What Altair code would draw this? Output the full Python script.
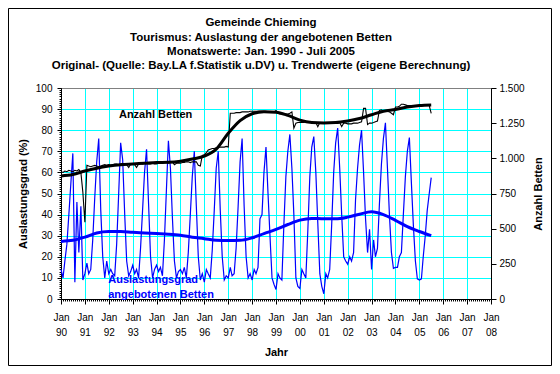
import altair as alt
import pandas as pd

FONT = "Liberation Sans"
BLUE = "#0000FF"
CYAN = "#00FFFF"

# Auslastungsgrad (%) monthly, Jan 1990 - Jul 2005 (one row per year)
auslastung = [
    14, 10, 18, 26, 40, 55, 69, 8, 46, 22, 44, 9,          # 1990
    12, 17, 12, 14, 28, 48, 65, 76, 42, 20, 10, 18,        # 1991
    12, 14, 12, 11, 26, 50, 74, 66, 40, 18, 11, 13,        # 1992
    16, 12, 14, 10, 24, 42, 60, 71, 45, 20, 10, 14,        # 1993
    16, 13, 15, 11, 28, 52, 75, 62, 38, 18, 10, 13,        # 1994
    14, 12, 15, 10, 22, 40, 58, 70, 44, 20, 9, 12,         # 1995
    8, 14, 12, 10, 23, 42, 62, 70, 42, 20, 9, 11,          # 1996
    10, 15, 11, 12, 24, 44, 65, 76, 44, 20, 10, 12,        # 1997
    9, 14, 12, 15, 38, 40, 60, 72, 50, 30, 10, 7,          # 1998
    4.5, 12, 10, 9, 35, 58, 70, 78, 62, 40, 10, 6,         # 1999
    5, 14, 12, 10, 32, 58, 72, 77, 60, 36, 12, 6,          # 2000
    2.5, 12, 10, 14, 35, 60, 74, 81, 62, 40, 20, 18,       # 2001
    16.5, 20, 18, 22, 47, 62, 73, 80, 60, 38, 22, 33,      # 2002
    14, 28, 20, 24, 45, 64, 76, 83.5, 62, 40, 22, 14.5,    # 2003
    15, 15, 20, 22, 40, 58, 70, 76.5, 55, 35, 18, 9.5,     # 2004
    9, 9.5, 20, 30, 42, 50, 57.5,                          # 2005
]

# Anzahl Betten monthly
betten = [
    905, 900, 910, 905, 915, 910, 905, 915, 910, 920, 900, 760,            # 1990
    545, 950, 945, 940, 945, 950, 945, 940, 945, 950, 955, 950,            # 1991
    955, 950, 955, 960, 960, 955, 960, 965, 960, 955, 935, 960,            # 1992
    960, 955, 935, 960, 965, 960, 965, 965, 960, 960, 965, 960,            # 1993
    960, 965, 970, 965, 970, 970, 965, 970, 975, 955, 965, 965,            # 1994
    965, 970, 970, 975, 975, 970, 975, 975, 975, 950, 945, 1020,           # 1995
    1025, 1040, 1060, 1065, 1070, 1070, 1075, 1075, 1080, 1080, 1080, 1085,  # 1996
    1080, 1320, 1320, 1320, 1325, 1325, 1325, 1330, 1330, 1330, 1330, 1335,  # 1997
    1335, 1335, 1335, 1335, 1335, 1335, 1335, 1335, 1330, 1330, 1330, 1330,  # 1998
    1340, 1320, 1315, 1315, 1315, 1315, 1315, 1320, 1330, 1215, 1250, 1255,  # 1999
    1255, 1255, 1255, 1260, 1260, 1255, 1255, 1255, 1255, 1225, 1255, 1255,  # 2000
    1255, 1255, 1255, 1255, 1255, 1255, 1255, 1260, 1255, 1225, 1250, 1250,  # 2001
    1245, 1245, 1245, 1250, 1250, 1250, 1255, 1260, 1355, 1355, 1240, 1250,  # 2002
    1250, 1255, 1260, 1265, 1340, 1345, 1335, 1340, 1335, 1330, 1320, 1310,  # 2003
    1365, 1365, 1370, 1385, 1385, 1380, 1375, 1375, 1375, 1375, 1375, 1375,  # 2004
    1375, 1375, 1380, 1380, 1380, 1375, 1320,                              # 2005
]

# Trend values, every half year (Jan / Jul)
trend_auslastung = [
    27.3, 27.8, 29.3, 31.3, 32.0, 32.0, 31.6, 31.3, 31.0, 30.7, 30.2, 29.3,
    28.6, 27.8, 27.7, 27.8, 29.0, 31.0, 33.0, 35.3, 37.4, 38.2, 38.0, 38.0,
    38.8, 40.2, 41.3, 40.0, 37.3, 34.3, 32.0, 30.0,
]
trend_betten = [
    875, 885, 910, 930, 945, 955, 960, 965, 970, 972, 980, 995,
    1015, 1065, 1178, 1268, 1317, 1332, 1328, 1305, 1272, 1255, 1252, 1254,
    1265, 1283, 1310, 1335, 1347, 1365, 1376, 1380,
]

label_text = ["Anzahl Betten", "Auslastungsgrad", "angebotenen Betten"]
label_month = ["1992-06-05", "1991-12-24", "1991-12-24"]
label_value = [87.3, 9.0, 1.7]
label_color = ["black", BLUE, BLUE]

title_lines = [
    "Gemeinde Chieming",
    "Tourismus: Auslastung der angebotenen Betten",
    "Monatswerte: Jan. 1990 - Juli 2005",
    "Original- (Quelle: Bay.LA f.Statistik u.DV) u. Trendwerte (eigene Berechnung)",
]

year_ticks = list(range(1990, 2009))
pct_ticks = list(range(0, 101, 10))
pct_minor = list(range(0, 101, 1))
bed_ticks = list(range(0, 1501, 250))

months = pd.date_range("1990-01-01", periods=len(auslastung), freq="MS").strftime("%Y-%m-%d")
trend_months = pd.date_range("1990-01-01", periods=len(trend_auslastung), freq="6MS").strftime("%Y-%m-%d")

df = pd.DataFrame({"Monat": months, "Auslastung": auslastung, "Betten": betten})
tdf = pd.DataFrame({"Monat": trend_months, "Auslastung": trend_auslastung, "Betten": trend_betten})
ldf = pd.DataFrame({"Monat": label_month, "Wert": label_value, "Text": label_text, "Farbe": label_color})


def dt(y, m=1):
    return alt.DateTime(year=y, month=m, date=1, utc=True)


x_scale = alt.Scale(type="utc", domain=[dt(1990), dt(2008)])
pct_scale = alt.Scale(domain=[0, 100], nice=False)
bed_scale = alt.Scale(domain=[0, 1500], nice=False)

x_main_axis = alt.Axis(
    orient="bottom", values=[dt(y) for y in year_ticks],
    labelExpr="['Jan', utcFormat(datum.value, '%y')]",
    labelFont=FONT, labelFontSize=10, labelColor="black", labelLineHeight=15,
    labelPadding=8, labelAngle=0, labelOverlap=False, labelFlush=False,
    tickSize=5, tickColor="black", domainColor="black",
    grid=True,
    gridColor={"condition": {"test": "utcyear(datum.value) == 1990 || utcyear(datum.value) == 2008",
                             "value": "black"}, "value": CYAN},
    gridOpacity=1, gridWidth=1,
    title="Jahr", titleFont=FONT, titleFontSize=11, titleFontWeight="bold",
    titleColor="black", titlePadding=9,
)
x_minor_axis = alt.Axis(
    orient="bottom", values=[dt(y, m) for y in range(1990, 2008) for m in range(1, 13)] + [dt(2008)],
    labels=False, domain=False, grid=False, tickSize=2, tickColor="black", title=None,
)
y_main_axis = alt.Axis(
    orient="left", values=pct_ticks,
    labelFont=FONT, labelFontSize=10, labelColor="black", labelPadding=5,
    tickSize=4, tickColor="black", domainColor="black",
    grid=True,
    gridColor={"condition": {"test": "datum.value >= 100", "value": "#808080"}, "value": CYAN},
    gridOpacity=1, gridWidth=1,
    title="Auslastungsgrad (%)", titleFont=FONT, titleFontSize=11, titleFontWeight="bold",
    titleColor="black", titlePadding=7,
)
y_minor_axis = alt.Axis(
    orient="left", values=pct_minor, labels=False, domain=False, grid=False,
    tickSize=2, tickColor="black", title=None,
)
y_right_axis = alt.Axis(
    orient="right", values=bed_ticks,
    labelExpr="replace(format(datum.value, ','), ',', '.')",
    labelFont=FONT, labelFontSize=10, labelColor="black", labelPadding=3,
    tickSize=5, tickColor="black", domainColor="black", grid=False,
    title="Anzahl Betten", titleFont=FONT, titleFontSize=11, titleFontWeight="bold",
    titleColor="black", titlePadding=8, titleAngle=270, titleBaseline="top",
)

frame = alt.Chart(pd.DataFrame({"k": [0]})).mark_rect(
    filled=False, stroke="black", strokeWidth=1
).encode(
    x=alt.value(-52.5), x2=alt.value(490.5), y=alt.value(-79.5), y2=alt.value(277.5)
)

minor = alt.Chart(df).mark_line(opacity=0).encode(
    x=alt.X("Monat:T", scale=x_scale, axis=x_minor_axis),
    y=alt.Y("Auslastung:Q", scale=pct_scale, axis=y_minor_axis),
)

blue = alt.Chart(df).mark_line(color=BLUE, strokeWidth=1.2).encode(
    x=alt.X("Monat:T", scale=x_scale, axis=x_main_axis),
    y=alt.Y("Auslastung:Q", scale=pct_scale, axis=y_main_axis),
)
blue_trend = alt.Chart(tdf).mark_line(color=BLUE, strokeWidth=3, interpolate="monotone").encode(
    x=alt.X("Monat:T", scale=x_scale, axis=None),
    y=alt.Y("Auslastung:Q", scale=pct_scale, axis=None),
)
black = alt.Chart(df).mark_line(color="black", strokeWidth=1.1).encode(
    x=alt.X("Monat:T", scale=x_scale, axis=None),
    y=alt.Y("Betten:Q", scale=bed_scale, axis=y_right_axis),
)
black_trend = alt.Chart(tdf).mark_line(color="black", strokeWidth=3, interpolate="monotone").encode(
    x=alt.X("Monat:T", scale=x_scale, axis=None),
    y=alt.Y("Betten:Q", scale=bed_scale, axis=None),
)
texts = alt.Chart(ldf).mark_text(
    align="left", baseline="middle", font=FONT, fontSize=11, fontWeight="bold"
).encode(
    x=alt.X("Monat:T", scale=x_scale, axis=None),
    y=alt.Y("Wert:Q", scale=pct_scale, axis=None),
    text="Text:N",
    color=alt.Color("Farbe:N", scale=None),
)

chart = alt.layer(
    frame, minor, blue, blue_trend, black, black_trend, texts
).resolve_scale(
    x="independent", y="independent"
).properties(
    width=430, height=211,
    autosize=alt.AutoSizeParams(type="none"),
    padding={"left": 53, "top": 80, "right": 61, "bottom": 67},
    title=alt.TitleParams(
        text=title_lines, font=FONT, fontSize=11.5, fontWeight="bold", color="black",
        anchor="middle", frame="group", dx=-15, offset=-64, lineHeight=14.4,
    ),
).configure_view(
    fill="#C0C0C0", stroke="#808080", strokeWidth=1
).configure(background="white")

chart.save("out.html", embed_options={"renderer": "svg", "actions": False})
